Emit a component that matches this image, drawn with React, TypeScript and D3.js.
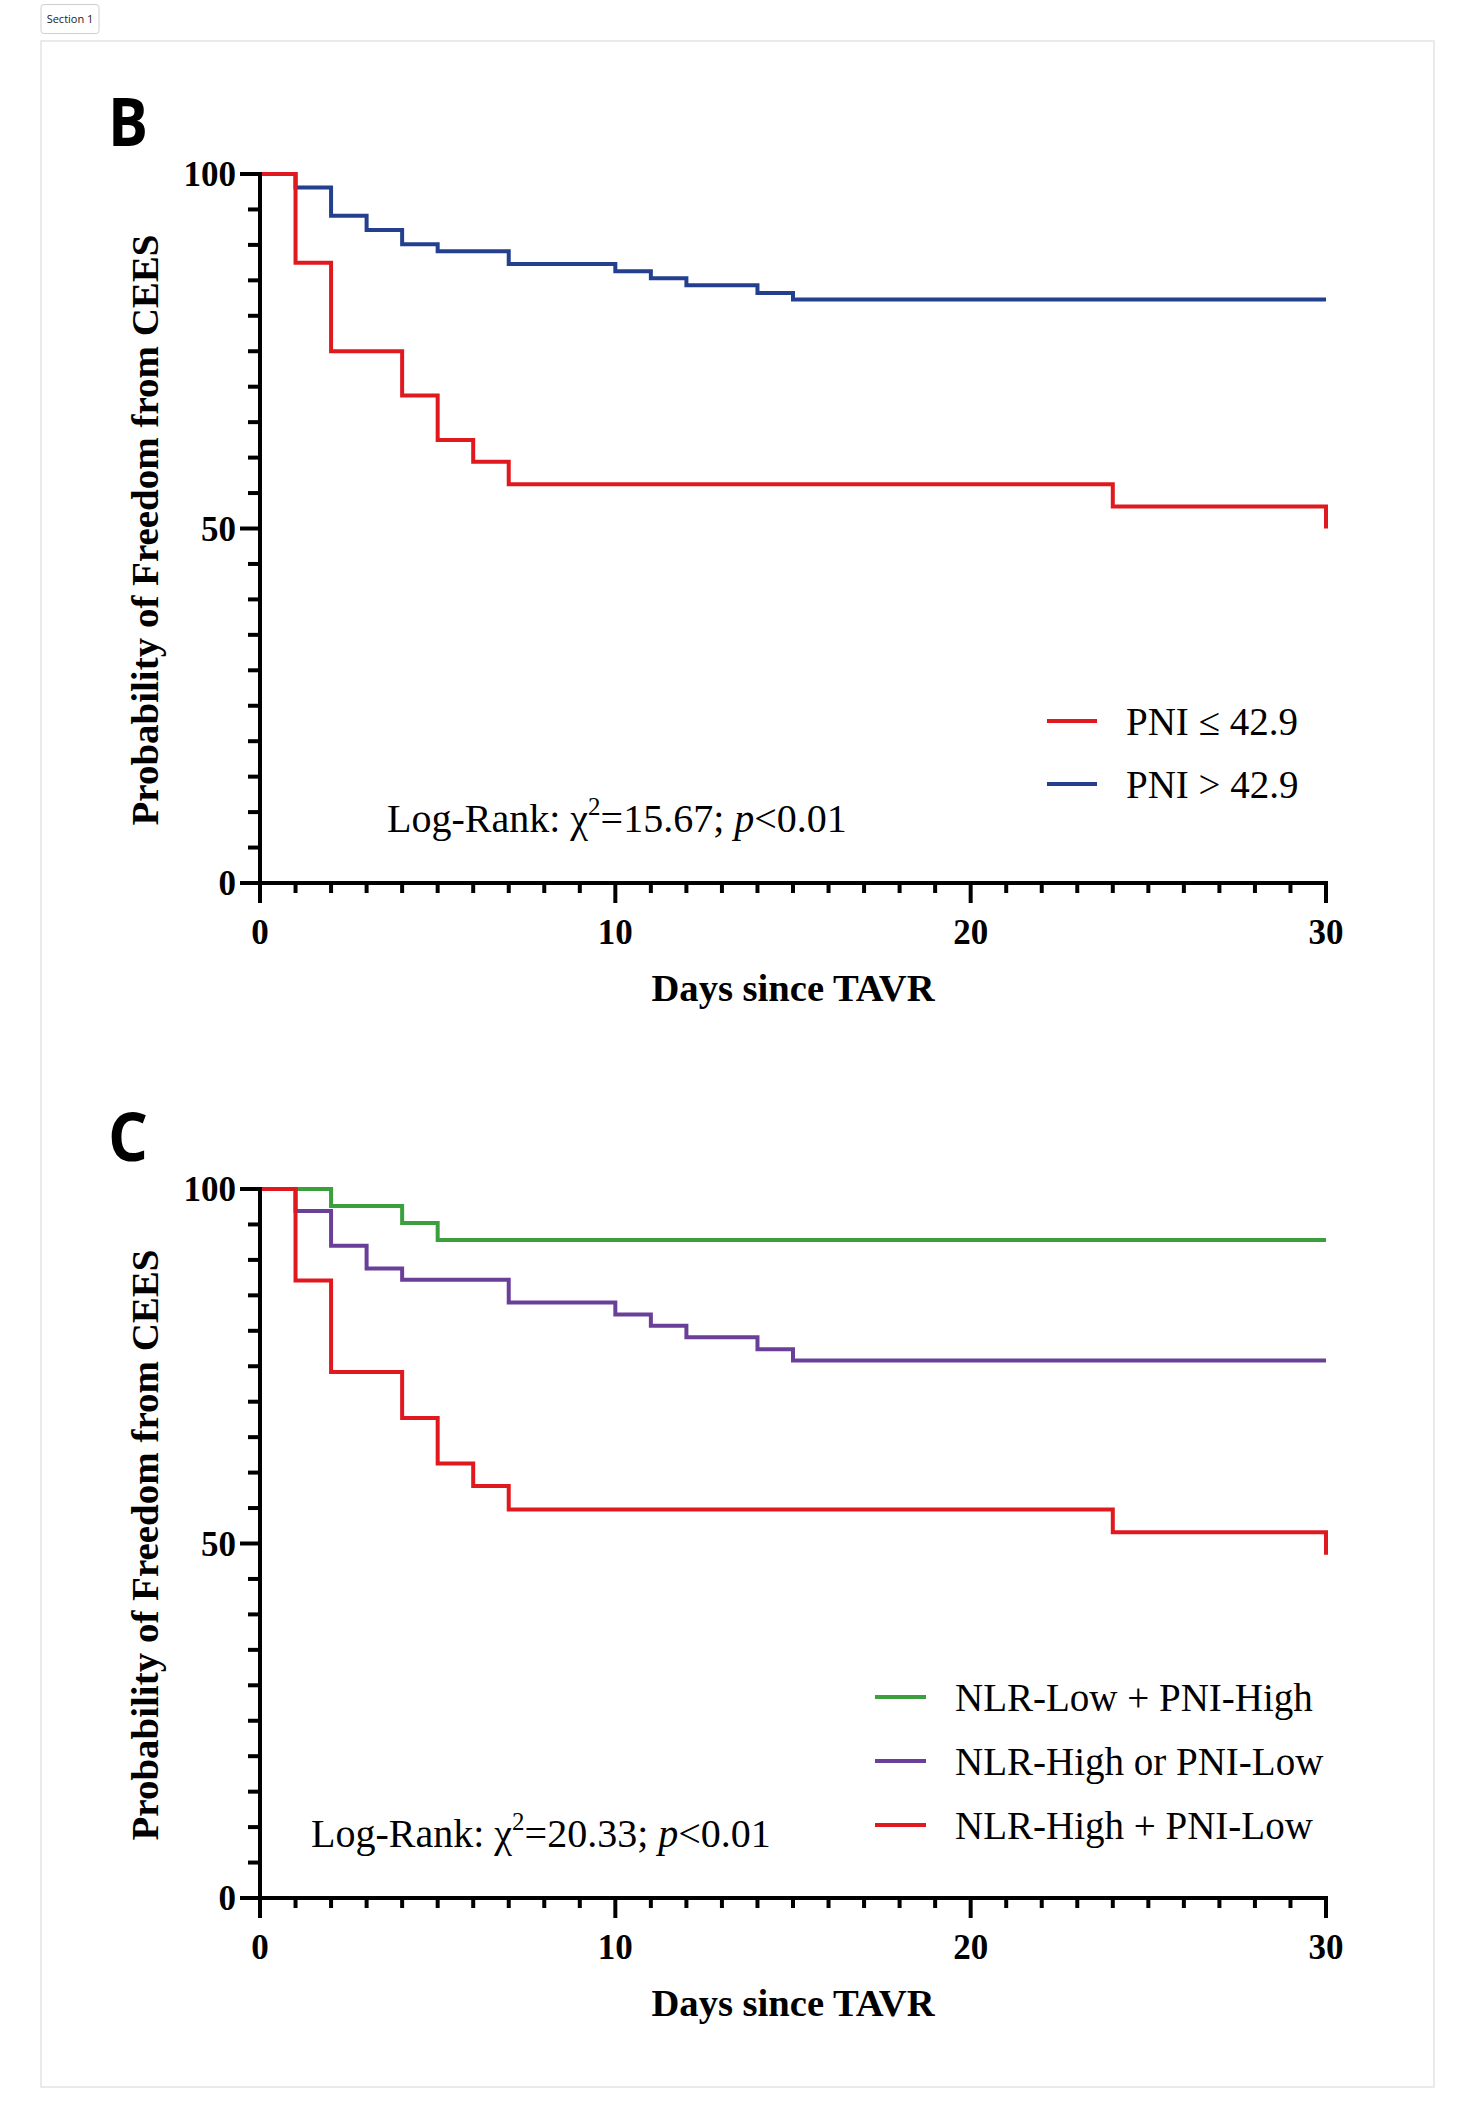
import React from 'react';
import * as d3 from 'd3';

// ---- data ----
const days = [0, 10, 20, 30];
const pctTicks = [0, 50, 100];

// panel B
const pniLowDays = [0, 1, 2, 4, 5, 6, 7, 24, 30, 30];
const pniLowSurv = [100, 87.5, 75, 68.75, 62.5, 59.4, 56.25, 53.1, 53.1, 50];
const pniHighDays = [0, 1, 2, 3, 4, 5, 7, 10, 11, 12, 14, 15, 30];
const pniHighSurv = [100, 98.1, 94.1, 92.1, 90.1, 89.1, 87.3, 86.3, 85.3, 84.3, 83.2, 82.3, 82.3];

// panel C
const lowLowDays = [0, 2, 4, 5, 30];
const lowLowSurv = [100, 97.6, 95.2, 92.8, 92.8];
const orDays = [0, 1, 2, 3, 4, 7, 10, 11, 12, 14, 15, 30];
const orSurv = [100, 96.9, 92.0, 88.8, 87.2, 84.0, 82.3, 80.7, 79.1, 77.4, 75.8, 75.8];
const highHighDays = [0, 1, 2, 4, 5, 6, 7, 24, 30, 30];
const highHighSurv = [100, 87.1, 74.2, 67.7, 61.3, 58.1, 54.8, 51.6, 51.6, 48.4];

const RED = '#e0191f';
const BLUE = '#233f8e';
const GREEN = '#3a9f3c';
const PURPLE = '#6a3f98';

const FONT = '"Liberation Serif", "Times New Roman", serif';

interface Series {
  name: string;
  color: string;
  days: number[];
  surv: number[];
}

const panelB: Series[] = [
  { name: 'PNI ≤ 42.9', color: RED, days: pniLowDays, surv: pniLowSurv },
  { name: 'PNI > 42.9', color: BLUE, days: pniHighDays, surv: pniHighSurv },
];

const panelC: Series[] = [
  { name: 'NLR-Low + PNI-High', color: GREEN, days: lowLowDays, surv: lowLowSurv },
  { name: 'NLR-High or PNI-Low', color: PURPLE, days: orDays, surv: orSurv },
  { name: 'NLR-High + PNI-Low', color: RED, days: highHighDays, surv: highHighSurv },
];

interface PanelProps {
  top: number; // pixel y of the 100% line
  letter: string;
  series: Series[];
  drawOrder: number[];
  chi: string;
  logX: number;
  legendX: number;
  legendY: number;
  legendGap: number;
  lineLen: number;
  textGap: number;
}

const AXIS_W = 4;

const Panel: React.FC<PanelProps> = ({
  top, letter, series, drawOrder, chi, logX, legendX, legendY, legendGap, lineLen, textGap,
}) => {
  const x = d3.scaleLinear().domain([0, 30]).range([260, 1326]);
  const y = d3.scaleLinear().domain([0, 100]).range([top + 709, top]);
  const y0 = y(0);

  const line = d3.line<[number, number]>()
    .x(d => x(d[0]))
    .y(d => y(d[1]))
    .curve(d3.curveStepAfter);

  const minorX = d3.range(0, 31).filter(d => d % 10 !== 0);
  const minorY = d3.range(0, 101, 5).filter(d => d % 50 !== 0);

  return (
    <g>
      <text x={108} y={top - 28} fontFamily='"Open Sans", sans-serif' fontWeight={700}
        fontSize={66} textLength={40} lengthAdjust="spacingAndGlyphs">{letter}</text>

      {/* curves */}
      {drawOrder.map(i => {
        const s = series[i];
        const pts = s.days.map((d, k) => [d, s.surv[k]] as [number, number]);
        return (
          <path key={s.name} d={line(pts) || ''} fill="none" stroke={s.color}
            strokeWidth={4} strokeLinejoin="miter" />
        );
      })}

      {/* y axis */}
      <line x1={x(0)} x2={x(0)} y1={y(100) - 2} y2={y0 + 20} stroke="#000" strokeWidth={AXIS_W} />
      {minorY.map(v => (
        <line key={'my' + v} x1={x(0) - 12} x2={x(0)} y1={y(v)} y2={y(v)} stroke="#000" strokeWidth={AXIS_W} />
      ))}
      {pctTicks.map(v => (
        <g key={'ty' + v}>
          <line x1={x(0) - 20} x2={x(0)} y1={y(v)} y2={y(v)} stroke="#000" strokeWidth={AXIS_W} />
          <text x={236} y={y(v) + 12} textAnchor="end" fontFamily={FONT} fontWeight={700}
            fontSize={35}>{v}</text>
        </g>
      ))}

      {/* x axis */}
      <line x1={x(0) - 2} x2={x(30) + 2} y1={y0} y2={y0} stroke="#000" strokeWidth={AXIS_W} />
      {minorX.map(v => (
        <line key={'mx' + v} x1={x(v)} x2={x(v)} y1={y0} y2={y0 + 10} stroke="#000" strokeWidth={AXIS_W} />
      ))}
      {days.map(v => (
        <g key={'tx' + v}>
          <line x1={x(v)} x2={x(v)} y1={y0} y2={y0 + 20} stroke="#000" strokeWidth={AXIS_W} />
          <text x={x(v)} y={y0 + 61} textAnchor="middle" fontFamily={FONT} fontWeight={700}
            fontSize={35}>{v}</text>
        </g>
      ))}

      {/* axis titles */}
      <text x={793} y={y0 + 118} textAnchor="middle" fontFamily={FONT} fontWeight={700}
        fontSize={38} textLength={283} lengthAdjust="spacingAndGlyphs">Days since TAVR</text>
      <text transform={`translate(158,${top + 356}) rotate(-90)`} textAnchor="middle"
        fontFamily={FONT} fontWeight={700} fontSize={38} textLength={591}
        lengthAdjust="spacingAndGlyphs">Probability of Freedom from CEES</text>

      {/* log-rank */}
      <text x={logX} y={y0 - 51} fontFamily={FONT} fontSize={40}>
        Log-Rank: χ<tspan fontSize={25} dy={-17}>2</tspan>
        <tspan dy={17}>={chi}; </tspan>
        <tspan fontStyle="italic">p</tspan>&lt;0.01
      </text>

      {/* legend */}
      {series.map((s, i) => {
        const ly = legendY + i * legendGap;
        return (
          <g key={'lg' + s.name}>
            <line x1={legendX} x2={legendX + lineLen} y1={ly} y2={ly} stroke={s.color} strokeWidth={4} />
            <text x={legendX + lineLen + textGap} y={ly + 14} fontFamily={FONT} fontSize={39}>{s.name}</text>
          </g>
        );
      })}
    </g>
  );
};

const App: React.FC = () => {
  return (
    <svg width={1475} height={2128} style={{ position: 'absolute', left: 0, top: 0, background: '#fff' }}>
      <rect x={0} y={0} width={1475} height={2128} fill="#fff" />
      <rect x={41} y={4.5} width={58} height={29} rx={3} fill="#fff" stroke="#cfcfcf" strokeWidth={1} />
      <text x={70} y={23} textAnchor="middle" fontFamily='"Open Sans", sans-serif' fontSize={11}
        fill="#222">Section 1</text>
      <rect x={41} y={41} width={1393} height={2046} fill="#fff" stroke="#e3e3e3" strokeWidth={1.5} />

      <Panel top={174} letter="B" series={panelB} drawOrder={[1, 0]} chi="15.67"
        logX={387} legendX={1047} legendY={721} legendGap={63} lineLen={50} textGap={29} />
      <Panel top={1189} letter="C" series={panelC} drawOrder={[0, 1, 2]} chi="20.33"
        logX={311} legendX={875} legendY={1697} legendGap={64} lineLen={51} textGap={29} />
    </svg>
  );
};

export default App;
